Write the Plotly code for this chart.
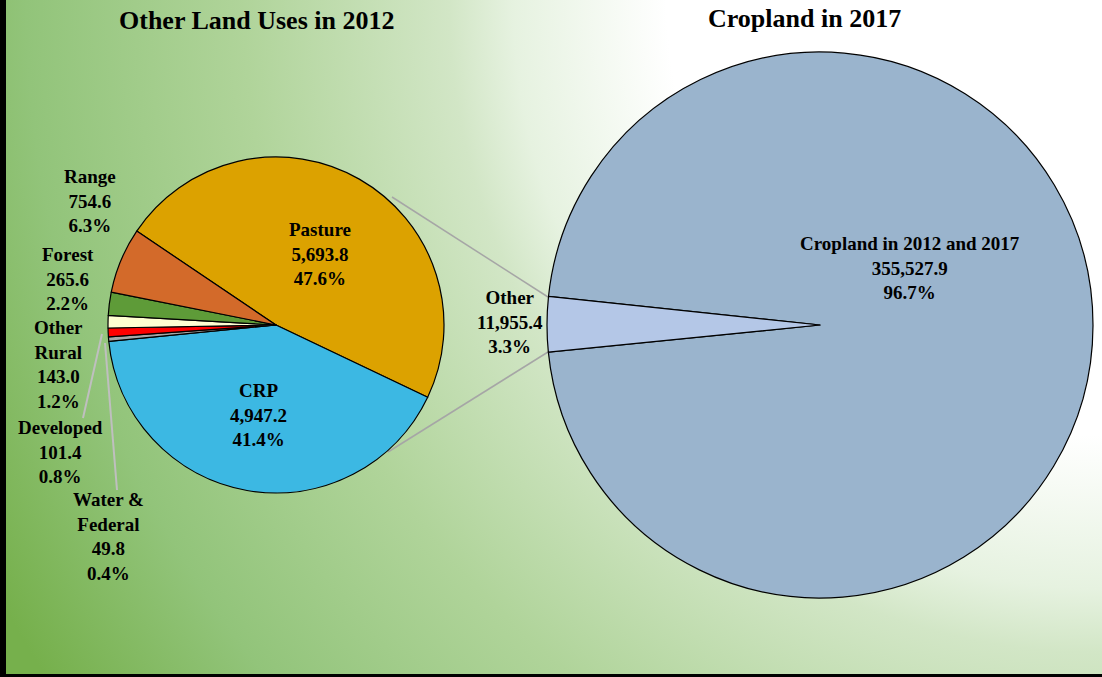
import base64
import plotly.graph_objects as go

W, H = 1102, 677

# left pie: other land uses in 2012 (thousand acres)
other_labels = ["Pasture", "CRP", "Water & Federal", "Developed", "Other Rural", "Forest", "Range"]
other_text = ["Pasture", "CRP", "Water &<br>Federal", "Developed", "Other<br>Rural", "Forest", "Range"]
other_values = [5693.8, 4947.2, 49.8, 101.4, 143.0, 265.6, 754.6]
other_colors = ["#DCA200", "#3CB8E3", "#A6A6A6", "#FF0000", "#FFFFD2", "#5E9B38", "#D36A2A"]

# right pie: cropland in 2017
crop_labels = ["Cropland in 2012 and 2017", "Other"]
crop_values = [355527.9, 11955.4]
crop_colors = ["#9AB4CD", "#B4C7E7"]

font_family = "Liberation Serif, Times New Roman, serif"

# label centres in pixels (x, y from top)
other_label_pos = {
    "Pasture": (320, 254),
    "CRP": (258, 415),
    "Water & Federal": (108, 536),
    "Developed": (60, 452),
    "Other Rural": (58, 364),
    "Forest": (68, 279),
    "Range": (90, 201),
}
crop_label_pos = {
    "Cropland in 2012 and 2017": (910, 268),
    "Other": (510, 322),
}


def px(x, y):
    return x / W, 1 - y / H


def bg_image():
    svg = f"""<svg xmlns='http://www.w3.org/2000/svg' width='{W}' height='{H}'>
<defs><radialGradient id='g' gradientUnits='userSpaceOnUse' cx='{W}' cy='0' r='1280'>
<stop offset='0' stop-color='#ffffff'/>
<stop offset='0.34' stop-color='#ffffff'/>
<stop offset='0.46' stop-color='#e6f2e0'/>
<stop offset='0.51' stop-color='#d2e6c6'/>
<stop offset='0.67' stop-color='#b0d49a'/>
<stop offset='0.84' stop-color='#92c47a'/>
<stop offset='0.98' stop-color='#76b04c'/>
<stop offset='1' stop-color='#76b04c'/>
</radialGradient></defs>
<rect width='{W}' height='{H}' fill='url(#g)'/></svg>"""
    return "data:image/svg+xml;base64," + base64.b64encode(svg.encode()).decode()


def label(x, y, text, size):
    xp, yp = px(x, y)
    return dict(x=xp, y=yp, xref="paper", yref="paper", showarrow=False,
                xanchor="center", yanchor="middle", text=text,
                font=dict(family=font_family, size=size, color="black"))


fig = go.Figure()

fig.add_trace(go.Pie(
    labels=other_labels,
    values=other_values,
    sort=False,
    direction="clockwise",
    rotation=-56,
    marker=dict(colors=other_colors, line=dict(color="black", width=1.2)),
    textinfo="none",
    domain=dict(x=[108 / W, 444 / W], y=[1 - 493 / H, 1 - 157 / H]),
    showlegend=False,
))

fig.add_trace(go.Pie(
    labels=crop_labels,
    values=crop_values,
    sort=False,
    direction="clockwise",
    rotation=-84,
    marker=dict(colors=crop_colors, line=dict(color="black", width=1.2)),
    textinfo="none",
    domain=dict(x=[547 / W, 1093 / W], y=[1 - 598 / H, 1 - 52 / H]),
    showlegend=False,
))

annotations = []
total_other = sum(other_values)
for lab, txt, v in zip(other_labels, other_text, other_values):
    x, y = other_label_pos[lab]
    annotations.append(label(x, y, f"<b>{txt}<br>{v:,.1f}<br>{v / total_other * 100:.1f}%</b>", 19))
total_crop = sum(crop_values)
for lab, v in zip(crop_labels, crop_values):
    x, y = crop_label_pos[lab]
    annotations.append(label(x, y, f"<b>{lab}<br>{v:,.1f}<br>{v / total_crop * 100:.1f}%</b>", 19))

annotations.append(label(256, 21, "<b>Other Land Uses in 2012</b>", 26))
annotations.append(label(804, 19, "<b>Cropland in 2017</b>", 26))

shapes = []
# connector lines between the pies
for (x0, y0, x1, y1) in [(392, 197, 548, 297), (388, 452, 548, 352)]:
    a, b = px(x0, y0)
    c, d = px(x1, y1)
    shapes.append(dict(type="line", xref="paper", yref="paper", x0=a, y0=b, x1=c, y1=d,
                       line=dict(color="#A6A6A6", width=1.5), layer="below"))
# leader lines for small slices
for (x0, y0, x1, y1) in [(83, 418, 102, 334), (117, 490, 105, 343)]:
    a, b = px(x0, y0)
    c, d = px(x1, y1)
    shapes.append(dict(type="line", xref="paper", yref="paper", x0=a, y0=b, x1=c, y1=d,
                       line=dict(color="#BFBFBF", width=2)))
# frame
shapes.append(dict(type="rect", xref="paper", yref="paper", x0=0, y0=0, x1=6 / W, y1=1,
                   fillcolor="black", line=dict(width=0)))
shapes.append(dict(type="rect", xref="paper", yref="paper", x0=0, y0=0, x1=1, y1=3 / H,
                   fillcolor="black", line=dict(width=0)))

fig.update_layout(
    width=W,
    height=H,
    margin=dict(l=0, r=0, t=0, b=0),
    paper_bgcolor="white",
    plot_bgcolor="rgba(0,0,0,0)",
    images=[dict(source=bg_image(), xref="paper", yref="paper", x=0, y=1,
                 sizex=1, sizey=1, sizing="stretch", layer="below")],
    annotations=annotations,
    shapes=shapes,
)

fig.write_html("out.html", config={"displayModeBar": False},
               post_script="document.body.style.margin='0';")
